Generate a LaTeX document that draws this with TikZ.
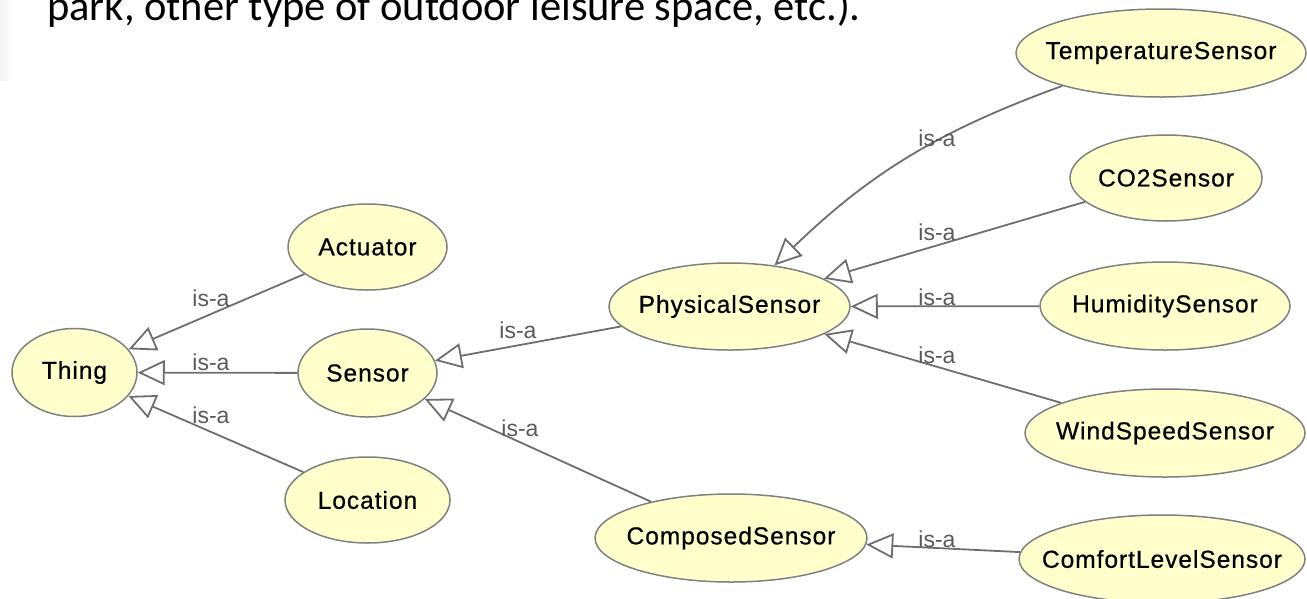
\documentclass[tikz,border=0pt]{standalone}
\usepackage{fontspec}
\setmainfont{Liberation Sans}
\newfontfamily\slidefont{Carlito}
\newfontfamily\clsfont[LetterSpace=4,FakeBold=0.6]{Liberation Sans}
\usetikzlibrary{shapes.geometric,arrows.meta}
\definecolor{nodefill}{RGB}{255,255,204}
\definecolor{nodeline}{RGB}{128,128,128}
\definecolor{edgeline}{RGB}{110,110,110}
\definecolor{isagray}{RGB}{90,90,90}
\tikzset{
 cls/.style={ellipse, draw=nodeline, fill=nodefill, line width=1.5pt, inner sep=0pt, font=\clsfont\fontsize{24.5}{27}\selectfont, text=black},
 isa/.style={font=\fontsize{23}{25}\selectfont, text=isagray, inner sep=0pt, anchor=base},
 sub/.style={draw=edgeline, line width=1.8pt, -{Triangle[length=27pt,width=25pt,fill=white]}},
}
\newcommand\cl[1]{\makebox[0pt][c]{#1}}
\begin{document}
\begin{tikzpicture}[x=1pt,y=-1pt]
\useasboundingbox (0,0) rectangle (1307,598);
\clip (0,0) rectangle (1307,598);
\shade[left color=black!4, right color=white] (0,0) rectangle (15,80);
\node[font=\slidefont\fontsize{42.5}{44}\selectfont, anchor=base west, inner sep=0pt] (slide) at (47,20) {park, other type of outdoor leisure space, etc.).};

\node[cls, minimum width=125pt, minimum height=88pt] (thing) at (74.5,372.5) {\cl{Thing}};
\node[cls, minimum width=159pt, minimum height=86pt] (act) at (367.5,247) {\cl{Actuator}};
\node[cls, minimum width=139pt, minimum height=88pt] (sensor) at (367.5,373) {\cl{Sensor}};
\node[cls, minimum width=165pt, minimum height=86pt] (loc) at (367.5,500) {\cl{Location}};
\node[cls, minimum width=241pt, minimum height=87pt] (phys) at (729.5,306.5) {\cl{PhysicalSensor}};
\node[cls, minimum width=272pt, minimum height=88pt] (comp) at (731,538) {\cl{ComposedSensor}};
\node[cls, minimum width=290pt, minimum height=88pt] (temp) at (1161,53) {\cl{TemperatureSensor}};
\node[cls, minimum width=192pt, minimum height=86pt] (co2) at (1166,178) {\cl{CO2Sensor}};
\node[cls, minimum width=250pt, minimum height=88pt] (hum) at (1165,306) {\cl{HumiditySensor}};
\node[cls, minimum width=280pt, minimum height=88pt] (wind) at (1165,433) {\cl{WindSpeedSensor}};
\node[cls, minimum width=286pt, minimum height=88pt] (comfort) at (1162,559) {\cl{ComfortLevelSensor}};

\draw[sub] (act) -- (thing);
\draw[sub] (sensor) -- (thing);
\draw[sub] (loc) -- (thing);
\draw[sub] (phys) -- (sensor);
\draw[sub] (comp) -- (sensor);
\draw[sub] (temp) to[bend right=12] (phys);
\draw[sub] (co2) -- (phys);
\draw[sub] (hum) -- (phys);
\draw[sub] (wind) -- (phys);
\draw[sub] (comfort) -- (comp);

\node[isa] (l1) at (211,306) {is-a};
\node[isa] (l2) at (211,370) {is-a};
\node[isa] (l3) at (211,423) {is-a};
\node[isa] (l4) at (518,338) {is-a};
\node[isa] (l5) at (520,436) {is-a};
\node[isa] (l6) at (937,146) {is-a};
\node[isa] (l7) at (937,240) {is-a};
\node[isa] (l8) at (937,305) {is-a};
\node[isa] (l9) at (937,363) {is-a};
\node[isa] (l10) at (937,547) {is-a};
\end{tikzpicture}
\end{document}
